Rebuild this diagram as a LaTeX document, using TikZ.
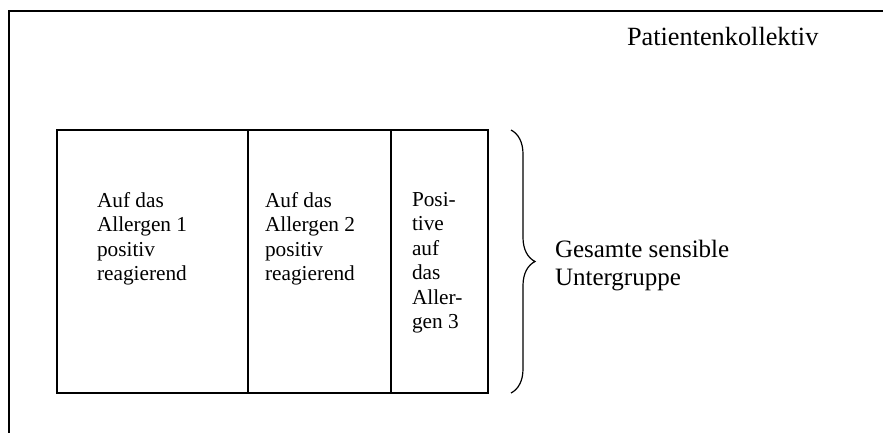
\documentclass[tikz,border=0pt]{standalone}
\usepackage{fontspec}
\setmainfont{Liberation Serif}
\usetikzlibrary{positioning,decorations.pathreplacing}
\begin{document}
\begin{tikzpicture}[x=1pt,y=-1pt,inner sep=0pt,outer sep=0pt,line width=1.4pt,
gruppe/.style={draw,rectangle,minimum height=263pt,line width=1.4pt},
boxtext/.style={align=left,font=\fontsize{21.3}{24.5}\selectfont},
bracetext/.style={align=left,anchor=north west,font=\fontsize{25}{28}\selectfont}]
\useasboundingbox (0,0) rectangle (883,432);
\draw (9,11) node[draw,rectangle,anchor=north west,minimum width=900pt,minimum height=450pt] (kollektiv) {};
\draw (627,45) node[anchor=base west,font=\fontsize{26.3}{30}\selectfont] (titel) {Patientenkollektiv};
\draw (57,130) node[gruppe,anchor=north west,minimum width=191pt] (allergen1) {};
\node[gruppe,minimum width=143pt,right=0pt of allergen1] (allergen2) {};
\node[gruppe,minimum width=97pt,right=0pt of allergen2] (allergen3) {};
\node[boxtext,below right=62pt and 40pt of allergen1.north west] (text1) {Auf das\\Allergen 1\\positiv\\reagierend};
\node[boxtext,below right=62pt and 17pt of allergen2.north west] (text2) {Auf das\\Allergen 2\\positiv\\reagierend};
\node[boxtext,below right=62pt and 21pt of allergen3.north west] (text3) {Posi-\\tive\\auf\\das\\Aller-\\gen 3};
\draw[line width=1.2pt,decorate,decoration={brace,amplitude=24pt}] ([xshift=23pt]allergen3.north east) -- ([xshift=23pt]allergen3.south east);
\draw (555,240) node[bracetext] (gesamt) {Gesamte sensible\\Untergruppe};
\end{tikzpicture}
\end{document}
